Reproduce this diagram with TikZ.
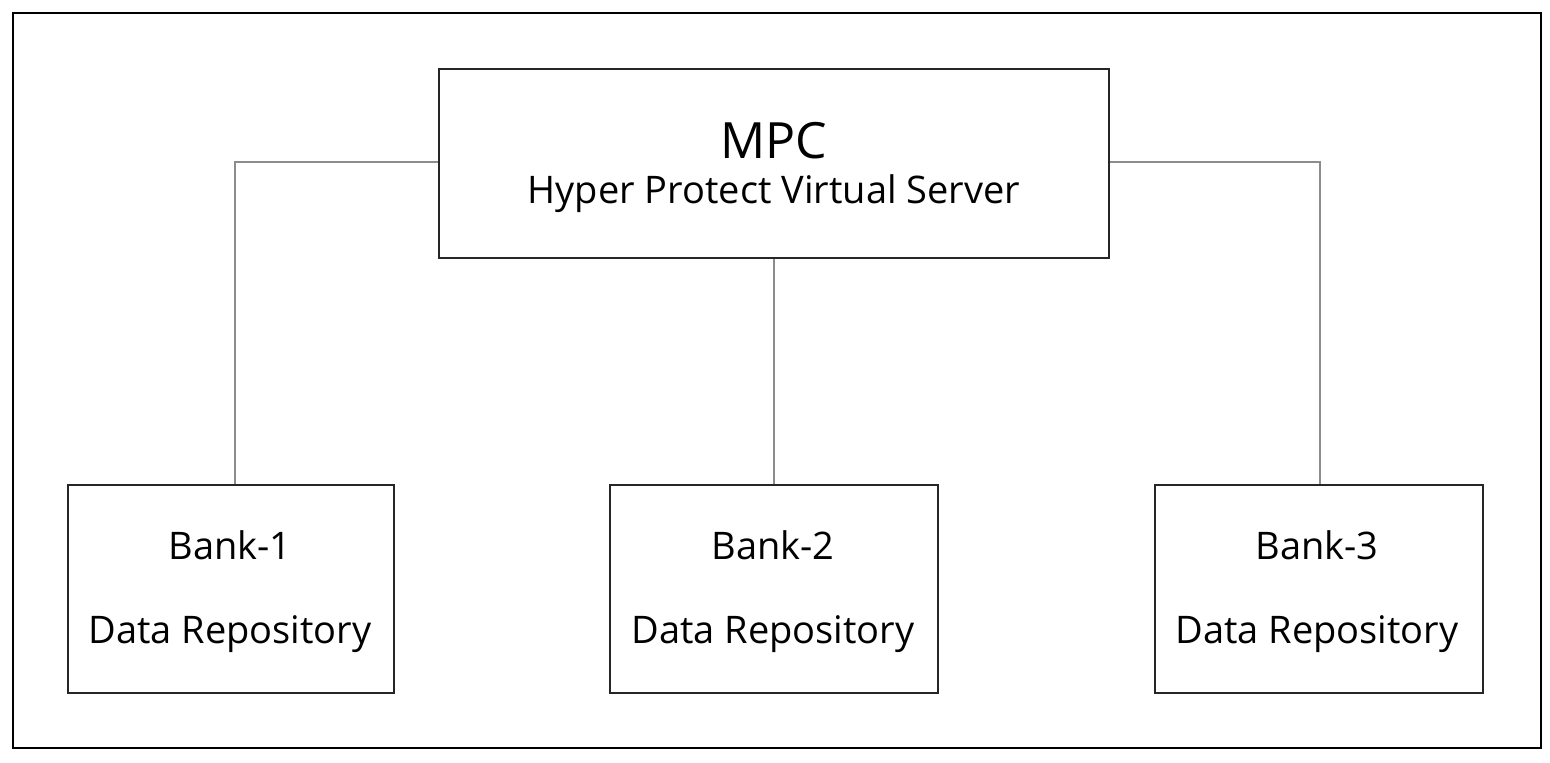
\documentclass[tikz,border=0pt]{standalone}
\usepackage{fontspec}
\setmainfont{Open Sans}
\begin{document}
\begin{tikzpicture}[x=0.5pt,y=-0.5pt]
\tikzset{
  box/.style={draw=black!85,line width=1pt,fill=white,inner sep=0pt},
  link/.style={draw=black!45,line width=1pt},
  big/.style={font=\fontsize{25}{30}\selectfont},
  mid/.style={font=\fontsize{19}{23}\selectfont},
  small/.style={font=\fontsize{19}{23}\selectfont}
}
\useasboundingbox (0,0) rectangle (1550,762);
\draw[line width=0.8pt,black] (13,13) rectangle (1541,748);
% nodes
\node[box,minimum width=335pt,minimum height=94.5pt] (mpc) at (774,163.5) {};
\node[box,minimum width=163pt,minimum height=104pt] (b1) at (231,589) {};
\node[box,minimum width=164pt,minimum height=104pt] (b2) at (774,589) {};
\node[box,minimum width=164pt,minimum height=104pt] (b3) at (1319,589) {};
\node[big,anchor=base] (mpct) at (774,158) {MPC};
\node[mid,anchor=base] (mpcs) at (774,203) {Hyper Protect Virtual Server};
\node[small,anchor=base] (b1t) at (230,559) {Bank-1};
\node[small,anchor=base] (b1s) at (230,643) {Data Repository};
\node[small,anchor=base] (b2t) at (773,559) {Bank-2};
\node[small,anchor=base] (b2s) at (773,643) {Data Repository};
\node[small,anchor=base] (b3t) at (1317,559) {Bank-3};
\node[small,anchor=base] (b3s) at (1317,643) {Data Repository};
% connectors
\coordinate (c1) at (235,162);
\coordinate (c3) at (1320,162);
\draw[link] (mpc.west |- c1) -- (c1) -- (c1 |- b1.north);
\draw[link] (mpc.south) -- (b2.north);
\draw[link] (mpc.east |- c3) -- (c3) -- (c3 |- b3.north);
\end{tikzpicture}
\end{document}
